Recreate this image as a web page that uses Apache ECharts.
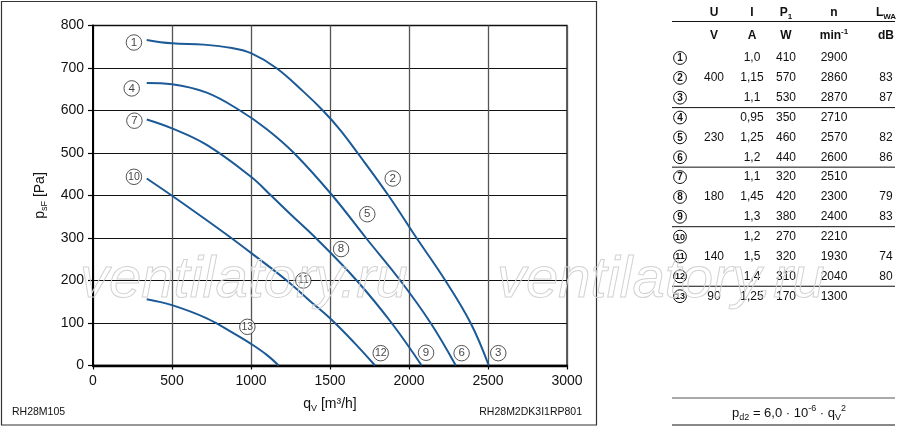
<!DOCTYPE html>
<html><head><meta charset="utf-8">
<script src="https://cdn.jsdelivr.net/npm/echarts@6/dist/echarts.min.js"></script>
<style>html,body{margin:0;padding:0;background:#fff}#c{width:900px;height:429px}</style>
</head><body><div id="c"></div>
<script>
// ---- curve data (q_V [m3/h], p_sF [Pa]) ----
const curve400Q = [340, 500, 700, 880, 1000, 1160, 1330, 1455, 1565, 1675, 1870, 2048, 2230, 2390, 2505];
const curve400P = [766, 758, 755, 747, 735, 700, 645, 600, 554, 500, 400, 300, 200, 100, 0];
const curve230Q = [340, 500, 720, 930, 1100, 1272, 1515, 1728, 1945, 2137, 2296];
const curve230P = [665, 662, 642, 600, 556, 500, 400, 300, 200, 100, 0];
const curve180Q = [340, 500, 720, 1000, 1127, 1250, 1410, 1669, 1890, 2080];
const curve180P = [579, 558, 519, 444, 400, 356, 300, 200, 100, 0];
const curve140Q = [340, 498, 700, 875, 1000, 1226, 1373, 1500, 1650, 1785];
const curve140P = [440, 400, 347, 300, 265, 200, 152, 111, 55, 0];
const curve90Q = [340, 500, 720, 880, 1000, 1100, 1175];
const curve90P = [156, 142, 111, 78, 51, 25, 0];

// operating-point markers
const markerIds = [1, 4, 7, 10, 2, 5, 8, 11, 13, 12, 9, 6, 3];
const markerQ = [259, 245, 262, 259, 1897, 1736, 1570, 1331, 977, 1821, 2108, 2333, 2565];
const markerP = [760, 652, 576, 444, 440, 356, 274, 200, 91, 29, 30, 29, 29];

// axis ticks
const xMin = 0, xMax = 3000, xStep = 500;
const yMin = 0, yMax = 800, yStep = 100;

// table
const tableHead1 = ['U', 'I', 'P1', 'n', 'LWA'];
const tableHead2 = ['V', 'A', 'W', 'min-1', 'dB'];
const rowIds = [1, 2, 3, 4, 5, 6, 7, 8, 9, 10, 11, 12, 13];
const colU = ['', '400', '', '', '230', '', '', '180', '', '', '140', '', '90'];
const colI = ['1,0', '1,15', '1,1', '0,95', '1,25', '1,2', '1,1', '1,45', '1,3', '1,2', '1,5', '1,4', '1,25'];
const colP = ['410', '570', '530', '350', '460', '440', '320', '420', '380', '270', '320', '310', '170'];
const colN = ['2900', '2860', '2870', '2710', '2570', '2600', '2510', '2300', '2400', '2210', '1930', '2040', '1300'];
const colL = ['', '83', '87', '', '82', '86', '', '79', '83', '', '74', '80', ''];
const groupEnds = [3, 6, 9, 12];

const FONT = '"Liberation Sans", Arial, Helvetica, sans-serif';
const chart = echarts.init(document.getElementById('c'), null, {renderer: 'canvas'});
const pairs = (q, p) => q.map((v, i) => [v, p[i]]);
const LINE = '#1b5a96';

const curves = [[curve400Q, curve400P], [curve230Q, curve230P], [curve180Q, curve180P], [curve140Q, curve140P], [curve90Q, curve90P]];
const series = curves.map(([q, p]) => ({
  type: 'line', data: pairs(q, p), smooth: 0.4,
  symbol: 'none', showSymbol: false, lineStyle: {color: LINE, width: 2}, z: 3, silent: true
}));
series.push({
  type: 'scatter', z: 6, silent: true,
  symbol: 'circle', symbolSize: 15.5,
  itemStyle: {color: '#fff', borderColor: '#111', borderWidth: 0.9},
  label: {show: true, position: 'inside', color: '#111', fontFamily: FONT, fontSize: 11.5, formatter: p => p.name},
  data: markerIds.map((id, i) => ({
    name: String(id), value: [markerQ[i], markerP[i]],
    label: id >= 10 ? {fontSize: 10.5} : undefined
  }))
});

// ---- graphic: table, frame, footers, watermark ----
const g = [];
function txt(x, y, text, opts, z) {
  g.push({type: 'text', x: x, y: y, silent: true, z: z || 10,
    style: Object.assign({text: text, font: '12px ' + FONT, fill: '#111',
      align: 'center', textAlign: 'center', verticalAlign: 'middle', textVerticalAlign: 'middle'}, opts || {})});
}
function hline(x1, x2, y, w, c) {
  g.push({type: 'line', silent: true, z: 10, shape: {x1: x1, y1: y, x2: x2, y2: y}, style: {stroke: c || '#111', lineWidth: w || 1}});
}
function circ(cx, cy, r, num, fs) {
  g.push({type: 'circle', silent: true, z: 10, shape: {cx: cx, cy: cy, r: r}, style: {fill: '#fff', stroke: '#111', lineWidth: 1}});
  txt(cx, cy + 0.5, String(num), {font: 'bold ' + fs + 'px ' + FONT}, 12);
}
// frame around chart
g.push({type: 'rect', silent: true, z: 1, shape: {x: 1.5, y: 1.5, width: 595, height: 423.5}, style: {fill: 'none', stroke: '#333', lineWidth: 1.2}});

// table columns
const colX = [680, 714, 752, 786, 834, 886];
const richHead = {
  b: {font: 'bold 12px ' + FONT, fill: '#111', lineHeight: 16, verticalAlign: 'middle'},
  s: {font: 'bold 8px ' + FONT, fill: '#111', lineHeight: 8, verticalAlign: 'bottom'},
  p: {font: 'bold 8px ' + FONT, fill: '#111', lineHeight: 8, verticalAlign: 'top'}
};
const head1Rich = ['{b|U}', '{b|I}', '{b|P}{s|1}', '{b|n}', '{b|L}{s|WA}'];
const head2Rich = ['{b|V}', '{b|A}', '{b|W}', '{b|min}{p|-1}', '{b|dB}'];
for (let k = 0; k < 5; k++) {
  txt(colX[k + 1], 13, head1Rich[k], {rich: richHead, font: 'bold 12px ' + FONT});
  txt(colX[k + 1], 36, head2Rich[k], {rich: richHead, font: 'bold 12px ' + FONT});
}
hline(672, 895, 21.5, 1);
const rowY = i => 58 + 19.85 * i;
rowIds.forEach((id, i) => {
  const y = rowY(i);
  circ(colX[0], y, 6.4, id, id >= 10 ? 9 : 10);
  txt(colX[1], y, colU[i]);
  txt(colX[2], y, colI[i]);
  txt(colX[3], y, colP[i]);
  txt(colX[4], y, colN[i]);
  txt(colX[5], y, colL[i]);
});
groupEnds.forEach(e => hline(672, 895, rowY(e - 1) + 9.9, 1));

// formula
hline(672, 895, 398, 1, '#555');
hline(672, 895, 425, 1, '#111');
txt(789, 413, '{a|p}{s|d2}{a| = 6,0 · 10}{p|-6}{a| · q}{s|V}{p|2}', {
  font: '13px ' + FONT,
  rich: {
    a: {font: '13px ' + FONT, fill: '#111', lineHeight: 18, verticalAlign: 'middle'},
    s: {font: '9px ' + FONT, fill: '#111', lineHeight: 9, verticalAlign: 'bottom'},
    p: {font: '9px ' + FONT, fill: '#111', lineHeight: 9, verticalAlign: 'top'}
  }
});

// footers
txt(12, 412.5, 'RH28M105', {font: '10.5px ' + FONT, align: 'left', textAlign: 'left'});
txt(582, 412.5, 'RH28M2DK3I1RP801', {font: '10.5px ' + FONT, align: 'right', textAlign: 'right'});

// watermark
['ventilatory.ru', 'ventilatory.ru'].forEach((w, k) => {
  g.push({type: 'text', silent: true, z: 50, x: k === 0 ? 80 : 497, y: 310,
    style: {text: w, font: 'italic 300 58px ' + FONT, fill: 'rgba(255,255,255,0)', stroke: '#d2d2d2', lineWidth: 1,
      align: 'left', textAlign: 'left', verticalAlign: 'alphabetic', textVerticalAlign: 'bottom'}});
});

const axisRich = {
  a: {fontSize: 14, fontFamily: FONT, color: '#111', lineHeight: 18, verticalAlign: 'middle'},
  s: {fontSize: 9, fontFamily: FONT, color: '#111', lineHeight: 9, verticalAlign: 'bottom'}
};

chart.setOption({
  animation: false,
  backgroundColor: '#fff',
  grid: {left: 93, right: 333, top: 25.5, bottom: 63.5, show: true, borderColor: '#111', borderWidth: 1.3, backgroundColor: 'transparent'},
  xAxis: {
    type: 'value', min: xMin, max: xMax, interval: xStep,
    name: '{a|q}{s|V}{a| [m³/h]}', nameLocation: 'middle', nameGap: 30,
    nameTextStyle: {rich: axisRich, fontFamily: FONT, fontSize: 14, color: '#111'},
    axisLine: {show: true, onZero: false, lineStyle: {color: '#000', width: 2.4}},
    axisTick: {show: true, length: 4, lineStyle: {color: '#000', width: 1.2}},
    axisLabel: {fontSize: 14, fontFamily: FONT, color: '#111', margin: 9, formatter: v => String(v)},
    splitLine: {show: true, lineStyle: {color: '#555', width: 1.3}}
  },
  yAxis: {
    type: 'value', min: yMin, max: yMax, interval: yStep,
    name: '{a|p}{s|sF}{a| [Pa]}', nameLocation: 'middle', nameGap: 44, nameRotate: 90,
    nameTextStyle: {rich: axisRich, fontFamily: FONT, fontSize: 14, color: '#111'},
    axisLine: {show: true, onZero: false, lineStyle: {color: '#000', width: 2}},
    axisTick: {show: true, length: 5, lineStyle: {color: '#000', width: 1.2}},
    axisLabel: {fontSize: 14, fontFamily: FONT, color: '#111', margin: 9, formatter: v => String(v)},
    splitLine: {show: true, lineStyle: {color: '#111', width: 1.2}}
  },
  graphic: {elements: g},
  series: series
});
</script></body></html>
